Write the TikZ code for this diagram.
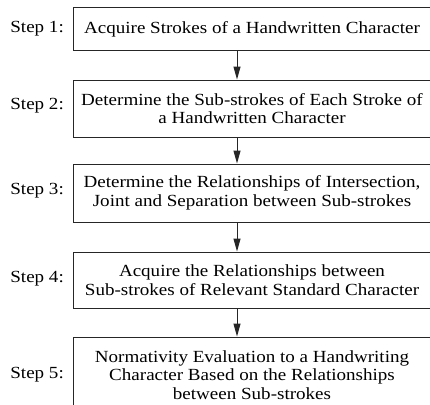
\documentclass[tikz,border=0pt]{standalone}
\usepackage{fontspec}
\setmainfont{Liberation Serif}[FakeStretch=1.12]
\usetikzlibrary{arrows.meta}
\begin{document}
\begin{tikzpicture}[x=1pt,y=-1pt,
  stepbox/.style={draw=black!85, line width=1pt, inner sep=0pt, minimum width=358pt,
    align=center, font=\fontsize{17}{18.5}\selectfont},
  steplabel/.style={inner sep=0pt, anchor=east, font=\fontsize{17}{18.5}\selectfont},
  arr/.style={draw=black!85, line width=1pt, -{Triangle[length=13pt,width=7pt]}}]
\useasboundingbox (0,0) rectangle (430,404);
\clip (0,0) rectangle (430,404);
\fill[white] (0,0) rectangle (430,404);
\coordinate (ax) at (237,0);
\node[stepbox, minimum height=42pt] (b1) at (252,29) {Acquire Strokes of a Handwritten Character};
\node[stepbox, minimum height=57pt] (b2) at (252,108.5) {Determine the Sub-strokes of Each Stroke of\\a Handwritten Character};
\node[stepbox, minimum height=58pt] (b3) at (252,193) {Determine the Relationships of Intersection,\\Joint and Separation between Sub-strokes};
\node[stepbox, minimum height=56pt] (b4) at (252,280) {Acquire the Relationships between\\Sub-strokes of Relevant Standard Character};
\node[stepbox, minimum height=76pt] (b5) at (252,375) {Normativity Evaluation to a Handwriting\\Character Based on the Relationships\\between Sub-strokes};
\node[steplabel] (s1) at (64,29) {Step 1:};
\node[steplabel] (s2) at (64,106) {Step 2:};
\node[steplabel] (s3) at (64,191) {Step 3:};
\node[steplabel] (s4) at (64,279) {Step 4:};
\node[steplabel] (s5) at (64,375) {Step 5:};
\draw[arr] (b1.south -| ax) -- (b2.north -| ax);
\draw[arr] (b2.south -| ax) -- (b3.north -| ax);
\draw[arr] (b3.south -| ax) -- (b4.north -| ax);
\draw[arr] (b4.south -| ax) -- (b5.north -| ax);
\end{tikzpicture}
\end{document}
